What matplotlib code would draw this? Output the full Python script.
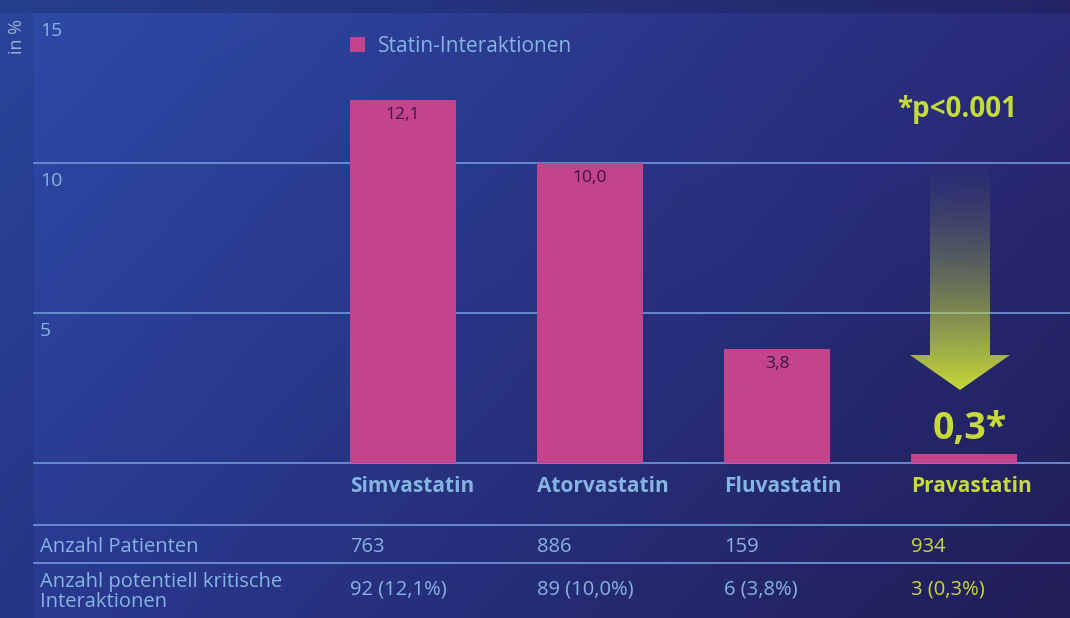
import numpy as np
import matplotlib.pyplot as plt
import matplotlib.colors as mcolors
from matplotlib.patches import Polygon

# Daten
statine = ["Simvastatin", "Atorvastatin", "Fluvastatin", "Pravastatin"]
anteil = [12.1, 10.0, 3.8, 0.3]
anteil_text = ["12,1", "10,0", "3,8", "0,3*"]
patienten = ["763", "886", "159", "934"]
interaktionen = ["92 (12,1%)", "89 (10,0%)", "6 (3,8%)", "3 (0,3%)"]
y_ticks = [5, 10, 15]
zeilen = ["Anzahl Patienten", "Anzahl potentiell kritische\nInteraktionen"]

W, H = 1070, 618
PINK = "#c4448c"
HELLBLAU = "#86b4e2"
GELB = "#c6da3a"
LINIE = "#6c90d2"
plt.rcParams['font.family'] = ['Open Sans', 'DejaVu Sans']

fig = plt.figure(figsize=(W / 100, H / 100), dpi=100)

# Hintergrund mit Verlauf
bg = fig.add_axes([0, 0, 1, 1], zorder=-2)
yy, xx = np.mgrid[0:H, 0:W]
u = (xx / W)[..., None]
v = (yy / H)[..., None]
tl, tr, bl, br = [np.array(mcolors.to_rgb(c)) for c in ("#2d4ba8", "#2a2b7a", "#2a3a92", "#211d56")]
img = (1 - u) * (1 - v) * tl + u * (1 - v) * tr + (1 - u) * v * bl + u * v * br
img[yy < 13] *= 0.84
img[(xx < 34) & (yy >= 13)] *= 0.92
bg.imshow(np.clip(img, 0, 1), extent=(0, W, H, 0), aspect="auto")
bg.set_xlim(0, W)
bg.set_ylim(H, 0)
bg.axis("off")

# Balkendiagramm
ax = fig.add_axes([34 / W, (H - 463) / H, 1036 / W, 450 / H])
ax.set_facecolor("none")
x = np.arange(len(statine))
breite = 0.567
ax.set_xlim((34 - 403) / 187, (1070 - 403) / 187)
ax.set_ylim(0, 15)
for yv in [0] + y_ticks[:-1]:
    ax.axhline(yv, color=LINIE, lw=1.3, zorder=1, clip_on=False)
ax.bar(x, anteil, width=breite, color=PINK, zorder=2, label="Statin-Interaktionen")
for sp in ax.spines.values():
    sp.set_visible(False)
ax.set_xticks([])
ax.set_yticks([])

for yv in y_ticks:
    ax.text(0.006, yv - 0.3, str(yv), transform=ax.get_yaxis_transform(),
            ha="left", va="top", fontsize=14, color=HELLBLAU)

for i, (val, txt) in enumerate(zip(anteil, anteil_text)):
    if i < 3:
        ax.text(i, val - 0.5, txt, ha="center", va="center", fontsize=12.5, color="#3a1640", zorder=3)
    else:
        ax.text(i + 0.03, val + 0.85, txt, ha="center", va="center", fontsize=27,
                fontweight="bold", color=GELB, zorder=3)

leg = ax.legend(loc="upper left", bbox_to_anchor=(331 / W, 1 - 17 / H), bbox_transform=fig.transFigure,
                frameon=False, handlelength=0.75, handleheight=0.75, handletextpad=0.6, fontsize=15)
for t in leg.get_texts():
    t.set_color(HELLBLAU)

# Tabelle und Beschriftungen (Pixel-Koordinaten)
ov = fig.add_axes([0, 0, 1, 1], zorder=3)
ov.set_facecolor("none")
ov.set_xlim(0, W)
ov.set_ylim(H, 0)
ov.axis("off")

links = [403 + 187 * i - breite * 187 / 2 for i in range(len(statine))]
for yl in (525, 563):
    ov.plot([34, W], [yl, yl], color=LINIE, lw=1.3)

for i, name in enumerate(statine):
    farbe = GELB if i == 3 else HELLBLAU
    ov.text(links[i], 487, name, ha="left", va="center", fontsize=15, fontweight="bold", color=farbe)
    ov.text(links[i], 547, patienten[i], ha="left", va="center", fontsize=14.5, color=farbe)
    ov.text(links[i], 590, interaktionen[i], ha="left", va="center", fontsize=14.5, color=farbe)

ov.text(40, 547, zeilen[0], ha="left", va="center", fontsize=14.5, color=HELLBLAU)
ov.text(40, 592, zeilen[1], ha="left", va="center", fontsize=14.5, color=HELLBLAU, linespacing=1.05)
ov.text(17, 36, "in %", ha="center", va="center", rotation=90, fontsize=13, color="#9aaed6")

ov.text(957, 110, "*p<0.001", ha="center", va="center", fontsize=20, fontweight="bold", color=GELB)

# Pfeil mit Farbverlauf
pfeil = Polygon([(930, 164), (990, 164), (990, 355), (1010, 355), (960, 390),
                 (910, 355), (930, 355)], closed=True, facecolor="none", edgecolor="none")
ov.add_patch(pfeil)
n = 200
grad = np.zeros((n, 1, 4))
grad[..., :3] = mcolors.to_rgb(GELB)
grad[:, 0, 3] = np.linspace(0.05, 1.0, n) ** 1.5
im = ov.imshow(grad, extent=(910, 1010, 390, 164), origin="upper", aspect="auto", zorder=2)
im.set_clip_path(pfeil)
ov.set_xlim(0, W)
ov.set_ylim(H, 0)

fig.savefig("out.png", dpi=100)
